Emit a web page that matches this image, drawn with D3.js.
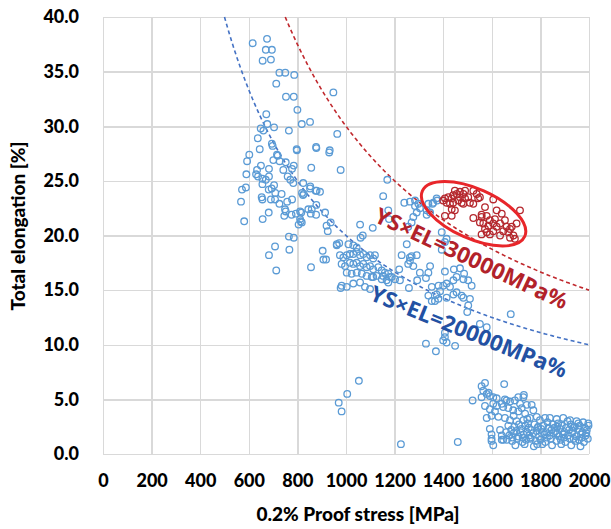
<!doctype html>
<html>
<head>
<meta charset="utf-8">
<script src="https://d3js.org/d3.v7.min.js"></script>
<style>
  body{margin:0;background:#fff;}
  .grid line{stroke:#d9d9d9;stroke-width:1.5;shape-rendering:crispEdges;}
  .grid path.domain{display:none;}
  .grid text{font-family:Lato,"Open Sans",sans-serif;font-weight:900;font-size:18px;fill:#000;}
  .title{font-family:Lato,"Open Sans",sans-serif;font-weight:900;font-size:19px;fill:#000;}
  .note{font-family:"Noto Sans","Open Sans",sans-serif;font-weight:bold;font-size:22px;}
</style>
</head>
<body>
<svg id="chart" width="611" height="529"></svg>
<script>
// tick values
var xTicks = [0,200,400,600,800,1000,1200,1400,1600,1800,2000];
var yTicks = [0,5,10,15,20,25,30,35,40];

// constant YS x EL curves (MPa%)
var curveLevels = [20000, 30000];

// measured points [0.2% proof stress MPa, total elongation %]
var blueLowStrength = [
  [616,37.6],[675,38.0],[670,37.0],[695,37.0],[657,36.0],[691,36.1],[726,34.9],[750,34.9],[787,34.7],
  [713,33.9],[753,32.7],[785,32.7],[800,31.5],[672,31.1],[818,30.2],[852,30.4],[649,29.8],[676,30.2],
  [704,29.9],[660,29.6],[765,29.6],[637,28.9],[695,28.4],[698,28.2],[645,27.9],[797,27.9],[877,28.1],
  [602,27.4],[716,27.4],[593,26.8],[701,26.9],[727,26.8],[752,26.7],[650,26.4],[683,26.1],[634,26.0],
  [630,25.6],[638,25.4],[590,25.6],[742,26.0],[785,26.4],[778,26.1],[857,26.2],[656,25.2],[670,25.1],
  [683,25.4],[760,25.4],[771,25.1],[783,24.8],[824,24.8],[656,24.7],[704,24.6],[572,24.2],[588,24.4],
  [682,24.2],[694,24.3],[709,23.9],[852,24.3],[879,24.1],[653,23.5],[656,23.3],[691,23.3],[708,23.3],
  [735,23.8],[819,23.9],[823,23.7],[758,23.1],[778,23.3],[568,23.1],[726,22.9],[878,22.8],[749,22.4],
  [752,22.2],[682,22.1],[746,21.8],[776,21.9],[794,22.0],[816,22.1],[855,22.0],[877,21.9],[657,21.5],
  [814,21.3],[805,21.0],[581,21.3],[765,19.9],[785,19.8],[708,19.0],[767,18.7],[683,18.2],[713,16.8],
  [856,17.1],[948,33.1],[964,29.3],[798,27.8],[878,28.0],[933,27.8],[719,27.3],[893,24.0],[875,24.1],
  [853,24.5],[826,23.8],[859,22.4],[845,22.4],[811,22.2],[904,18.6],[907,17.8],[978,26.0],[931,27.6],
  [914,22.1],[937,21.2],[920,20.9],[925,20.4],[811,21.5],[818,21.2],[972,19.3],[962,19.1],[918,17.8]
];

var blueMidStrength = [
  [1058,21.0],[1110,20.7],[1060,19.8],[1069,20.0],[962,19.2],[1010,19.2],[1030,19.1],[1044,18.9],
  [975,18.2],[989,18.0],[1003,18.2],[1016,18.3],[1030,18.3],[1044,18.5],[1058,18.2],[1071,18.3],
  [1085,18.0],[1099,18.2],[1112,17.9],[1119,18.2],[982,17.4],[996,17.2],[1016,17.5],[1030,17.4],
  [1044,17.5],[1058,17.2],[1071,17.4],[1085,17.1],[1099,17.2],[1112,16.9],[1133,17.1],[1147,16.8],
  [1160,16.6],[1174,16.5],[1188,16.2],[1003,16.6],[1023,16.5],[1044,16.6],[1065,16.5],[1085,16.3],
  [1106,16.2],[1126,16.3],[1147,16.0],[1167,15.9],[1202,16.0],[982,15.4],[1003,15.3],[1030,15.6],
  [1058,15.7],[1078,15.3],[1099,15.1],[978,15.2],[1153,16.3],[1181,16.2],[1174,15.7],[1112,16.2],
  [1153,23.6],[1170,25.1],[1240,23.0],[1284,22.7],[1291,22.1],[1277,21.7],[1270,21.2],[1256,20.8],
  [1174,22.3],[1177,21.5],[1332,22.3],[1356,22.9],[1375,23.2],[1250,19.2],[1229,18.2],[1263,18.0],
  [1291,18.2],[1277,17.2],[1256,17.4],[1219,16.9],[1222,15.9],[1304,16.6],[1329,16.1],[1346,17.2],
  [1339,16.6],[1407,16.7],[1444,16.9],[1414,15.6],[1442,15.9],[1293,15.9],[1259,15.2],[1353,15.3],
  [1381,15.4],[1442,14.6],[1373,14.6],[1414,14.3],[1339,14.5],[1353,14.0],[1483,16.0],[1503,15.9],
  [1517,15.4],[1469,17.0],[1486,16.5],[1455,16.2],[1483,14.3],[1510,14.2],[1551,11.9],[1579,11.6],
  [1678,12.8],[1503,13.6],[1407,11.1],[1407,10.7],[1414,10.2],[1329,10.1],[1370,9.4],[1449,9.9],
  [1270,18.1],[1263,17.7],[1400,15.4],[1387,14.9],[1428,15.3],[1455,14.8],[1380,14.2],[1366,14.0],
  [1476,14.5],[1499,13.0],[1400,10.4],[1263,23.1],[1284,23.2],[1298,22.9],[1304,22.5],[1339,22.9],
  [1359,23.0],[1373,23.4],[1346,22.1],[1332,21.9],[1414,19.7],[1407,19.4],[1394,18.7],[1394,20.3]
];

var blueLowElongation = [
  [1053,6.7],[1005,5.5],[970,4.7],[982,3.9],[1226,0.9],[1460,1.1],[1521,4.9],
  [1558,6.2],[1572,6.5],[1565,5.8],[1579,5.5],[1586,5.6],[1592,5.3],[1606,5.2],[1558,5.2],[1651,6.4],
  [1572,4.4],[1592,4.1],[1606,4.6],[1620,4.4],[1641,4.6],[1661,4.9],[1709,5.2],[1732,5.4],[1764,4.5],
  [1579,3.3],[1599,3.5],[1592,2.3],[1599,1.8],[1599,1.2],[1641,1.3],[1620,5.1],[1654,5.0],[1675,4.8],
  [1695,4.9],[1716,4.6],[1730,5.2],[1744,4.5],[1771,4.0],[1647,4.3],[1668,4.2],[1688,4.0],[1709,3.9],
  [1723,4.2],[1737,3.7],[1613,3.9],[1627,3.4],[1654,3.3],[1675,3.1],[1702,3.0],[1730,3.1],[1757,3.3],
  [1785,3.4],[1798,3.1],[1819,3.3],[1839,3.3],[1867,3.2],[1894,3.3],[1922,3.1],[1949,3.0],[1976,2.9],
  [1997,2.8],[1599,1.4],[1606,0.8],[1641,1.7],[1647,1.3],[1634,2.2],
  [1668,2.6],[1693,2.5],[1712,2.7],[1738,2.6],[1752,2.4],[1776,2.7],[1791,2.5],[1812,2.6],[1833,2.4],
  [1851,2.7],[1870,2.5],[1888,2.6],[1906,2.4],[1925,2.7],[1941,2.5],[1962,2.6],[1983,2.4],[1998,2.6],
  [1659,2.0],[1680,2.2],[1701,2.1],[1722,2.3],[1745,2.0],[1763,2.2],[1784,2.1],[1803,2.3],[1824,2.0],
  [1846,2.2],[1862,2.1],[1881,2.3],[1899,2.0],[1918,2.2],[1934,2.1],[1955,2.3],[1973,2.0],[1991,2.2],
  [1672,1.7],[1690,1.9],[1709,1.6],[1731,1.8],[1754,1.7],[1770,1.9],[1795,1.6],[1816,1.8],[1838,1.7],
  [1855,1.9],[1877,1.6],[1893,1.8],[1913,1.7],[1930,1.9],[1948,1.6],[1967,1.8],[1986,1.7],
  [1662,1.3],[1684,1.2],[1705,1.4],[1726,1.1],[1741,1.3],[1760,1.4],[1781,1.2],[1800,1.3],[1820,1.1],
  [1843,1.4],[1866,1.2],[1884,1.3],[1903,1.1],[1921,1.4],[1944,1.2],[1959,1.3],[1979,1.1],[1995,1.4],
  [1697,0.8],[1735,0.9],[1773,0.7],[1808,0.9],[1848,0.8],[1886,0.9],[1927,0.8],[1965,0.7],
  [1829,2.9],[1873,2.8],[1912,3.0],[1956,2.8],[1746,3.2],[1690,3.5],
  [1718,2.0],[1757,1.5],[1789,2.4],[1827,1.5],[1858,2.4],[1897,1.5],[1936,2.4],[1971,1.5],
  [1685,1.5],[1749,2.8],[1806,1.9],[1869,1.9],[1937,1.4],[1989,1.9],[1727,1.5],[1787,0.9]
];

var redPoints = [
  [1407,23.4],[1421,23.5],[1435,23.4],[1441,23.7],[1448,24.1],[1456,23.8],[1469,23.5],[1476,23.0],
  [1483,22.9],[1462,23.2],[1441,23.0],[1414,23.0],[1400,23.2],[1428,22.9],[1469,24.0],[1483,23.8],
  [1490,23.4],[1503,23.5],[1524,24.1],[1538,23.8],[1544,23.4],[1524,22.9],[1510,23.0],[1435,22.4],
  [1448,22.3],[1435,21.8],[1407,21.8],[1490,24.1],
  [1579,21.8],[1558,21.7],[1551,21.2],[1565,21.1],[1592,21.4],[1606,21.1],[1613,21.5],[1620,20.8],
  [1634,21.1],[1641,22.0],[1654,21.4],[1661,20.8],[1647,20.4],[1668,20.3],[1675,19.8],[1689,20.0],
  [1702,21.1],[1716,22.3],[1695,19.7],[1606,20.4],[1592,20.1],[1579,20.3],[1558,20.1],[1572,20.6],
  [1634,20.0],[1586,20.9],[1675,20.6],[1682,20.8],[1606,23.3],[1551,23.5],[1572,22.6],[1620,22.3],
  [1524,21.6],[1558,21.9]
];

var svg = d3.select('#chart');
var xScale = d3.scaleLinear().domain([0,2000]).range([103,589]);
var yScale = d3.scaleLinear().domain([0,40]).range([454,17]);

//grid + axes
var xAxis = d3.axisBottom(xScale).tickValues(xTicks).tickSize(-(454-17)).tickPadding(20)
  .tickFormat(d3.format('d'));
var yAxis = d3.axisLeft(yScale).tickValues(yTicks).tickSize(-(589-103)).tickPadding(24)
  .tickFormat(d3.format('.1f'));
svg.append('g').attr('class','grid').attr('transform','translate(0,454)').call(xAxis);
svg.append('g').attr('class','grid').attr('transform','translate(103,0)').call(yAxis);

//YS x EL curves
var curveColors = ['#4472c4','#c0282d'];
curveLevels.forEach(function(c,i){
  var pts = d3.range(c/40, 2000.1, 5).map(function(s){return [s, c/s];});
  svg.append('path')
    .attr('d', d3.line().x(function(d){return xScale(d[0]);}).y(function(d){return yScale(d[1]);})(pts))
    .attr('fill','none').attr('stroke',curveColors[i]).attr('stroke-width',1.6)
    .attr('stroke-dasharray','4,3');
});

//points
var allBlue = blueLowStrength.concat(blueMidStrength, blueLowElongation);
svg.append('g').selectAll('circle').data(allBlue).enter()
  .append('circle').attr('r',3.3)
  .attr('cx',function(d){return xScale(d[0]);})
  .attr('cy',function(d){return yScale(d[1]);})
  .attr('fill','none').attr('stroke','#5b9bd5').attr('stroke-width',1.3);
svg.append('g').selectAll('circle').data(redPoints).enter()
  .append('circle').attr('r',3.3)
  .attr('cx',function(d){return xScale(d[0]);})
  .attr('cy',function(d){return yScale(d[1]);})
  .attr('fill','none').attr('stroke','#b5282e').attr('stroke-width',1.3);

//ellipse round the red group
svg.append('ellipse')
  .attr('transform','translate('+xScale(1525)+','+yScale(22.0)+') rotate(24)')
  .attr('rx',56).attr('ry',25)
  .attr('fill','none').attr('stroke','#e8262a').attr('stroke-width',3);

//curve labels
svg.append('text').attr('class','note')
  .attr('transform','translate('+xScale(1518)+','+yScale(18.0)+') rotate(25)')
  .attr('text-anchor','middle').attr('dominant-baseline','central')
  .attr('textLength',210).attr('lengthAdjust','spacingAndGlyphs')
  .attr('fill','#b2222a').text('YS×EL=30000MPa%');
svg.append('text').attr('class','note')
  .attr('transform','translate('+xScale(1507)+','+yScale(11.3)+') rotate(22)')
  .attr('text-anchor','middle').attr('dominant-baseline','central')
  .attr('textLength',210).attr('lengthAdjust','spacingAndGlyphs')
  .attr('fill','#2351a3').text('YS×EL=20000MPa%');

//axis titles
svg.append('text').attr('class','title')
  .attr('transform','translate(25,226) rotate(-90)')
  .attr('text-anchor','middle').text('Total elongation [%]');
svg.append('text').attr('class','title')
  .attr('x',358).attr('y',521)
  .attr('text-anchor','middle').text('0.2% Proof stress [MPa]');
</script>
</body>
</html>
